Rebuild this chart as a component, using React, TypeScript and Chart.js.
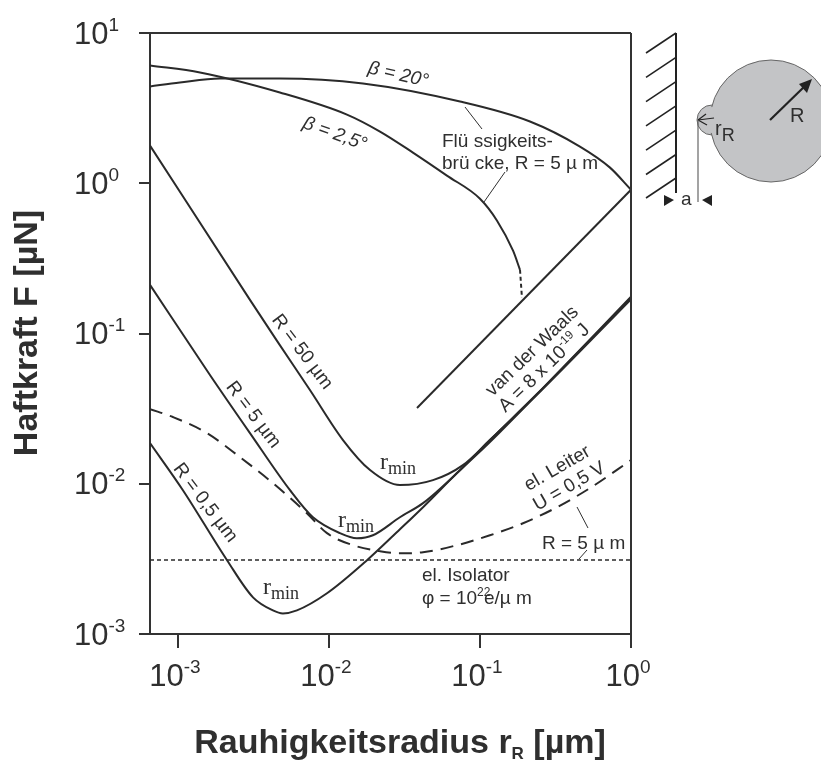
import React, { useEffect, useRef } from "react";
import { Chart, registerables } from "chart.js";

Chart.register(...registerables);

const beta20LogX = [-3.185, -2.987, -2.722, -2.325, -1.775, -1.132, -0.669, -0.338, -0.139, 0];
const beta20LogF = [0.644, 0.671, 0.697, 0.697, 0.664, 0.544, 0.411, 0.244, 0.104, -0.043];

const beta25LogX = [-3.185, -2.854, -2.325, -1.881, -1.662, -1.444, -1.219, -1.0, -0.887, -0.781, -0.735];
const beta25LogF = [0.784, 0.737, 0.604, 0.457, 0.344, 0.204, 0.051, -0.103, -0.249, -0.449, -0.576];

const beta25EndLogX = [-0.735, -0.722];
const beta25EndLogF = [-0.576, -0.763];

const vdwLogX = [-1.417, 0];
const vdwLogF = [-1.496, -0.043];

const r50LogX = [-3.185, -2.523, -2.344, -2.126, -1.907, -1.728, -1.53, -1.311, -1.113, -0.934, -0.623, 0];
const r50LogF = [0.251, -0.776, -1.049, -1.376, -1.709, -1.909, -2.009, -1.976, -1.876, -1.709, -1.408, -0.772];

const r5LogX = [-3.185, -2.788, -2.523, -2.258, -2.106, -1.927, -1.815, -1.709, -1.53, -1.377, -1.152, -0.934, -0.623, 0];
const r5LogF = [-0.676, -1.276, -1.663, -2.043, -2.223, -2.329, -2.363, -2.343, -2.223, -2.129, -1.929, -1.709, -1.403, -0.763];

const r05LogX = [-3.185, -2.967, -2.675, -2.503, -2.371, -2.305, -2.212, -2.013, -1.748, -1.53, -1.377, -1.152, -0.934, -0.623, 0];
const r05LogF = [-1.729, -2.043, -2.509, -2.756, -2.843, -2.863, -2.843, -2.729, -2.509, -2.303, -2.156, -1.929, -1.722, -1.405, -0.755];

const leiterLogX = [-3.185, -3.033, -2.808, -2.589, -2.371, -2.146, -2.013, -1.841, -1.662, -1.53, -1.377, -1.152, -0.934, -0.715, -0.49, -0.272, 0];
const leiterLogF = [-1.503, -1.556, -1.663, -1.823, -1.996, -2.196, -2.329, -2.409, -2.449, -2.463, -2.456, -2.409, -2.343, -2.263, -2.156, -2.029, -1.843];

const isolatorLogX = [-3.185, 0];
const isolatorLogF = [-2.507, -2.507];

const xDecades = [0.001, 0.01, 0.1, 1];
const yDecades = [0.001, 0.01, 0.1, 1, 10];
const xExponents = ["-3", "-2", "-1", "0"];
const yExponents = ["-3", "-2", "-1", "0", "1"];

const INK = "#2f2f2f";
const SANS = '"Liberation Sans", Arial, sans-serif';
const SERIF = '"Liberation Serif", "Times New Roman", serif';

const pts = (xs: number[], ys: number[]) => xs.map((x, i) => ({ x: 10 ** x, y: 10 ** ys[i] }));

type Run = { s: string; font: string; dy?: number };

function runs(ctx: CanvasRenderingContext2D, list: Run[], x: number, y: number, rot = 0, align: "center" | "left" = "center") {
  ctx.save();
  ctx.translate(x, y);
  ctx.rotate((rot * Math.PI) / 180);
  ctx.fillStyle = INK;
  ctx.textBaseline = "alphabetic";
  ctx.textAlign = "left";
  let total = 0;
  for (const r of list) {
    ctx.font = r.font;
    total += ctx.measureText(r.s).width;
  }
  let cx = align === "center" ? -total / 2 : 0;
  for (const r of list) {
    ctx.font = r.font;
    ctx.fillText(r.s, cx, r.dy ?? 0);
    cx += ctx.measureText(r.s).width;
  }
  ctx.restore();
}

function seg(ctx: CanvasRenderingContext2D, x1: number, y1: number, x2: number, y2: number, w = 1, c = INK) {
  ctx.strokeStyle = c;
  ctx.lineWidth = w;
  ctx.beginPath();
  ctx.moveTo(x1, y1);
  ctx.lineTo(x2, y2);
  ctx.stroke();
}

function tri(ctx: CanvasRenderingContext2D, p: number[]) {
  ctx.fillStyle = "#222";
  ctx.beginPath();
  ctx.moveTo(p[0], p[1]);
  ctx.lineTo(p[2], p[3]);
  ctx.lineTo(p[4], p[5]);
  ctx.closePath();
  ctx.fill();
}

const decor = {
  id: "decor",
  afterDraw(chart: any) {
    const ctx: CanvasRenderingContext2D = chart.ctx;
    const { chartArea: a, scales } = chart;
    ctx.save();
    // frame
    seg(ctx, a.left, a.top, a.right, a.top, 2, "#333");
    seg(ctx, a.right, a.top, a.right, a.bottom, 2, "#333");

    // tick labels
    const big = `31px ${SANS}`;
    const small = `19px ${SANS}`;
    xDecades.forEach((v, i) => {
      runs(ctx, [{ s: "10", font: big }, { s: xExponents[i], font: small, dy: -13 }], scales.x.getPixelForValue(v) - 3, 686);
    });
    yDecades.forEach((v, i) => {
      runs(ctx, [{ s: "10", font: big }, { s: yExponents[i], font: small, dy: -13 }], 74, scales.y.getPixelForValue(v) + 10.5, 0, "left");
    });

    // axis titles
    const bold = `bold 34px ${SANS}`;
    runs(ctx, [{ s: "Rauhigkeitsradius r", font: bold }, { s: "R", font: `bold 17px ${SANS}`, dy: 6 }, { s: " [µm]", font: bold }], 400, 753);
    runs(ctx, [{ s: "Haftkraft F [µN]", font: bold }], 37, 333, -90);

    // curve labels
    const f19 = `19px ${SANS}`;
    const it19 = `italic 19px ${SANS}`;
    runs(ctx, [{ s: "β = 20°", font: it19 }], 397, 80, 13);
    runs(ctx, [{ s: "β = 2,5°", font: it19 }], 333, 139, 20);
    runs(ctx, [{ s: "Flü ssigkeits-", font: f19 }], 442, 147, 0, "left");
    runs(ctx, [{ s: "brü cke, R = 5 µ m", font: f19 }], 442, 169, 0, "left");
    runs(ctx, [{ s: "van der Waals", font: f19 }], 536, 355, -44);
    runs(ctx, [{ s: "A = 8 x 10", font: f19 }, { s: "-19", font: `12px ${SANS}`, dy: -8 }, { s: " J", font: f19 }], 548, 372, -44);
    runs(ctx, [{ s: "R = 50 µm", font: f19 }], 298, 355, 53);
    runs(ctx, [{ s: "R = 5 µm", font: f19 }], 249, 418, 53);
    runs(ctx, [{ s: "R = 0,5 µm", font: f19 }], 201, 506, 53);
    runs(ctx, [{ s: "el. Leiter", font: f19 }], 560, 473, -30);
    runs(ctx, [{ s: "U = 0,5 V", font: f19 }], 572, 491, -30);
    runs(ctx, [{ s: "R = 5 µ m", font: f19 }], 542, 549, 0, "left");
    runs(ctx, [{ s: "el. Isolator", font: f19 }], 422, 581, 0, "left");
    runs(ctx, [{ s: "φ = 10", font: f19 }, { s: "22", font: `12px ${SANS}`, dy: -8 }], 422, 604, 0, "left");
    runs(ctx, [{ s: "e/µ m", font: f19 }], 484, 604, 0, "left");

    const rm = `24px ${SERIF}`;
    const sub = `18px ${SERIF}`;
    runs(ctx, [{ s: "r", font: rm }, { s: "min", font: sub, dy: 5 }], 263, 594, 0, "left");
    runs(ctx, [{ s: "r", font: rm }, { s: "min", font: sub, dy: 5 }], 338, 527, 0, "left");
    runs(ctx, [{ s: "r", font: rm }, { s: "min", font: sub, dy: 5 }], 380, 469, 0, "left");

    // leader lines
    seg(ctx, 465, 107, 482, 129);
    seg(ctx, 505, 172, 484, 202);
    seg(ctx, 577, 507, 588, 528);
    seg(ctx, 587, 550, 579, 559);

    // wall sketch
    seg(ctx, 676, 33, 676, 193, 2, "#222");
    [33, 57.3, 81.6, 105.9, 130.2, 154.5, 178].forEach((y) => seg(ctx, 676, y, 646, y + 20, 1.6, "#222"));

    // particle sketch
    ctx.fillStyle = "#c3c4c6";
    ctx.strokeStyle = "#666";
    ctx.lineWidth = 1;
    ctx.beginPath();
    ctx.arc(712, 120, 15, 0, Math.PI * 2);
    ctx.fill();
    ctx.stroke();
    ctx.beginPath();
    ctx.arc(771, 121, 61, 0, Math.PI * 2);
    ctx.fill();
    ctx.stroke();
    ctx.beginPath();
    ctx.arc(712, 120, 13, 0, Math.PI * 2);
    ctx.fill();
    seg(ctx, 770, 120, 806, 85, 2.2, "#222");
    tri(ctx, [812, 79, 799, 84, 807, 93]);
    seg(ctx, 698, 120, 714, 118, 1.2, "#222");
    seg(ctx, 698, 120, 706, 114, 1.2, "#222");
    seg(ctx, 698, 120, 707, 125, 1.2, "#222");
    seg(ctx, 698, 120, 698, 202, 1.2, "#666");
    tri(ctx, [674, 200, 664, 195, 664, 206]);
    tri(ctx, [702, 200, 712, 195, 712, 206]);
    runs(ctx, [{ s: "a", font: `19px ${SANS}` }], 681, 205, 0, "left");
    runs(ctx, [{ s: "R", font: `20px ${SANS}` }], 790, 122, 0, "left");
    runs(ctx, [{ s: "r", font: `20px ${SANS}` }, { s: "R", font: `18px ${SANS}`, dy: 6 }], 715, 135, 0, "left");
    ctx.restore();
  },
};

const line = (xs: number[], ys: number[], extra: object = {}) => ({
  data: pts(xs, ys),
  borderColor: "#2a2a2a",
  borderWidth: 2,
  pointRadius: 0,
  cubicInterpolationMode: "monotone",
  fill: false,
  ...extra,
});

export default function App() {
  const ref = useRef<HTMLCanvasElement>(null);
  useEffect(() => {
    if (!ref.current) return;
    const chart = new Chart(ref.current, {
      type: "line",
      data: {
        datasets: [
          line(beta20LogX, beta20LogF, { label: "β = 20°" }),
          line(beta25LogX, beta25LogF, { label: "β = 2,5°" }),
          line(beta25EndLogX, beta25EndLogF, { label: "β = 2,5° (Ende)", borderDash: [4, 3], cubicInterpolationMode: "default" }),
          line(vdwLogX, vdwLogF, { label: "van der Waals", cubicInterpolationMode: "default" }),
          line(r50LogX, r50LogF, { label: "R = 50 µm" }),
          line(r5LogX, r5LogF, { label: "R = 5 µm" }),
          line(r05LogX, r05LogF, { label: "R = 0,5 µm" }),
          line(leiterLogX, leiterLogF, { label: "el. Leiter", borderDash: [13, 8] }),
          line(isolatorLogX, isolatorLogF, { label: "el. Isolator", borderDash: [4, 3], cubicInterpolationMode: "default", borderWidth: 1.6 }),
        ] as any,
      },
      options: {
        responsive: false,
        animation: false,
        parsing: false as any,
        layout: { padding: { left: 0, right: 190, top: 33, bottom: 0 } },
        plugins: { legend: { display: false }, tooltip: { enabled: false } },
        scales: {
          x: {
            type: "logarithmic",
            min: 10 ** -3.185,
            max: 1,
            afterBuildTicks: (s: any) => {
              s.ticks = xDecades.map((value) => ({ value }));
            },
            afterFit: (s: any) => {
              s.height = 128;
            },
            ticks: { display: false },
            border: { display: true, color: "#333", width: 2 },
            grid: { drawOnChartArea: false, drawTicks: true, tickLength: 14, color: "#333", lineWidth: 2 },
          },
          y: {
            type: "logarithmic",
            min: 0.001,
            max: 10,
            afterBuildTicks: (s: any) => {
              s.ticks = yDecades.map((value) => ({ value }));
            },
            afterFit: (s: any) => {
              s.width = 150;
            },
            ticks: { display: false },
            border: { display: true, color: "#333", width: 2 },
            grid: { drawOnChartArea: false, drawTicks: true, tickLength: 11, color: "#333", lineWidth: 2 },
          },
        },
      },
      plugins: [decor],
    } as any);
    return () => chart.destroy();
  }, []);
  return (
    <div style={{ position: "absolute", left: 0, top: 0, width: 821, height: 762, background: "#fff" }}>
      <canvas ref={ref} width={821} height={762} style={{ display: "block" }} />
    </div>
  );
}
